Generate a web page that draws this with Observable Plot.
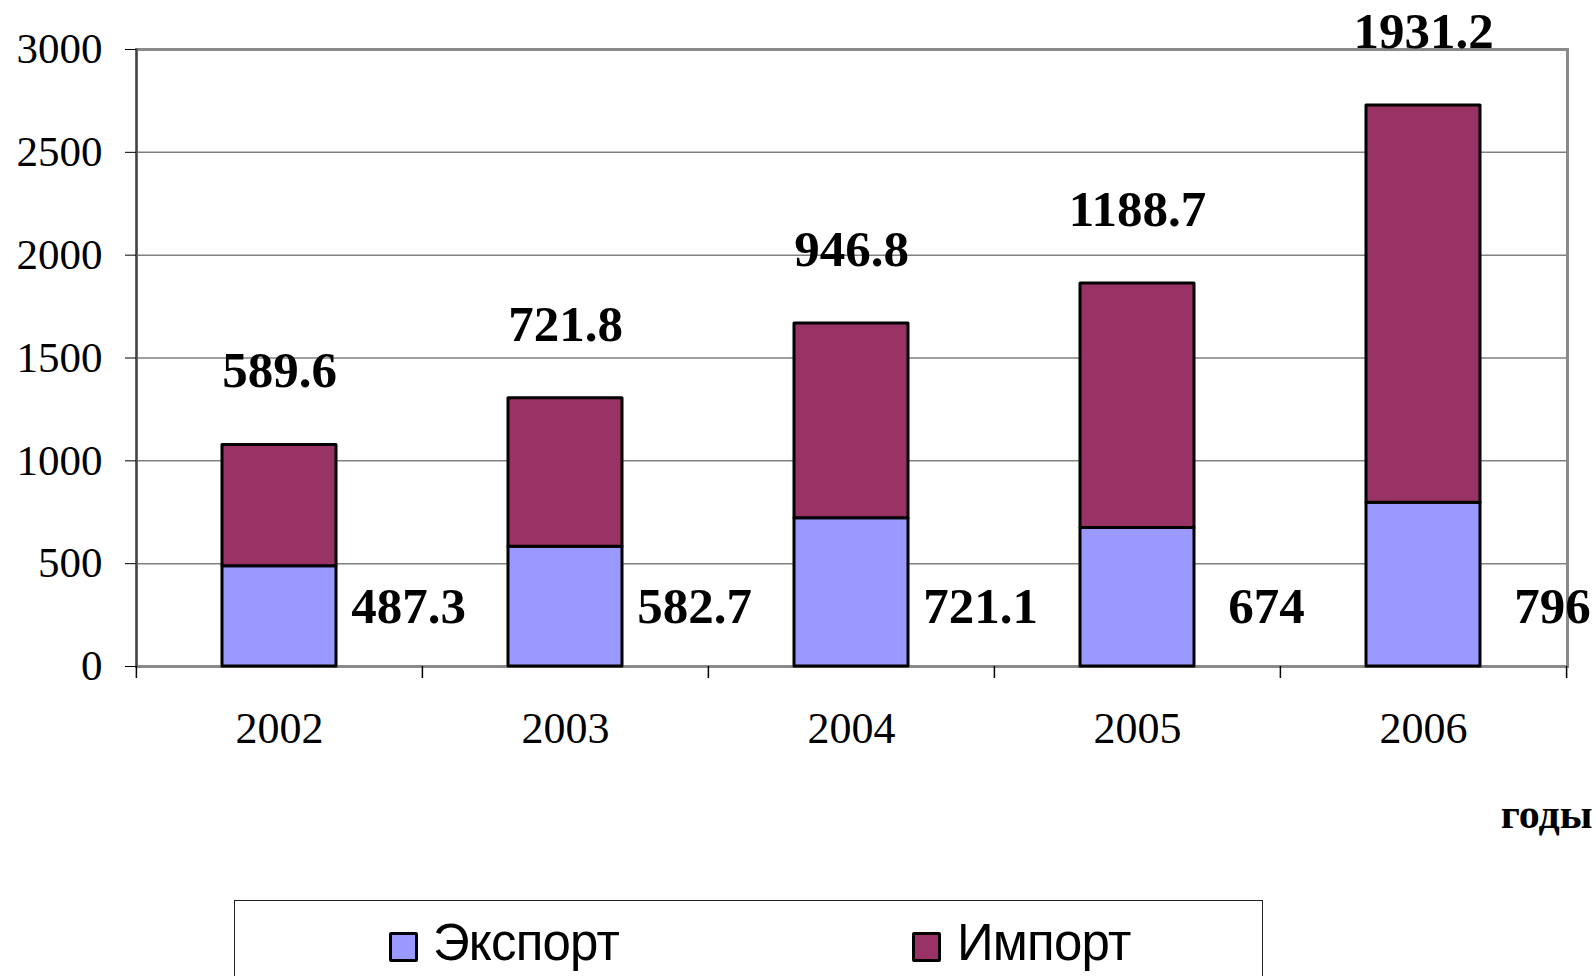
<!DOCTYPE html>
<html>
<head>
<meta charset="utf-8">
<script src="https://cdn.jsdelivr.net/npm/d3@7"></script>
<script src="https://cdn.jsdelivr.net/npm/@observablehq/plot@0.6"></script>
<style>
  html, body { margin: 0; padding: 0; background: #fff; }
  #wrap { position: relative; width: 1596px; height: 976px; overflow: hidden; background: #fff; }
  #legend { position: absolute; left: 234px; top: 900px; width: 1029px; height: 120px; border: 1.5px solid #222; box-sizing: border-box; }
  .sw { position: absolute; width: 29px; height: 30px; box-sizing: border-box; border: 3px solid #000; border-radius: 2px; }
  .lt { position: absolute; font-family: "Liberation Sans", Arial, sans-serif; font-size: 51px; line-height: 51px; letter-spacing: -0.8px; color: #000; white-space: nowrap; }
</style>
</head>
<body>
<div id="wrap"></div>
<script>
// ---- data ----
const years = ["2002", "2003", "2004", "2005", "2006"];
const exportValues = [487.3, 582.7, 721.1, 674, 796];
const importValues = [589.6, 721.8, 946.8, 1188.7, 1931.2];
const seriesNames = ["Экспорт", "Импорт"];
const seriesColors = ["#9999FF", "#993366"];
const yTicks = [0, 500, 1000, 1500, 2000, 2500, 3000];
const xAxisTitle = "годы";

// ---- tables built from the arrays ----
const long = [];
years.forEach((y, i) => {
  long.push({year: y, type: seriesNames[0], value: exportValues[i]});
  long.push({year: y, type: seriesNames[1], value: importValues[i]});
});
const rows = years.map((y, i) => ({year: y, exp: exportValues[i], imp: importValues[i]}));

const W = 1596, H = 976;
const mL = 136, mR = 29, mT = 49, mB = 310;
const halfStep = (W - mL - mR) / years.length / 2;
const labelFont = "Liberation Serif, Times New Roman, serif";

const chart = Plot.plot({
  width: W,
  height: H,
  marginLeft: mL,
  marginRight: mR,
  marginTop: mT,
  marginBottom: mB,
  style: {fontFamily: labelFont, background: "white", color: "#000", overflow: "visible"},
  x: {domain: years, paddingInner: 0.6, paddingOuter: 0.3, label: null},
  y: {domain: [0, 3000], label: null},
  color: {domain: seriesNames, range: seriesColors},
  marks: [
    Plot.gridY(yTicks, {stroke: "#808080", strokeOpacity: 1, strokeWidth: 1.5}),
    Plot.frame({stroke: "#8a8a8a", strokeWidth: 3}),
    Plot.frame({anchor: "left", stroke: "#444", strokeWidth: 2}),
    Plot.axisY({ticks: yTicks, tickFormat: d => String(d), tickSize: 11, tickPadding: 23, fontSize: 43, fontFamily: labelFont, stroke: "#000", label: null}),
    Plot.axisX({tickSize: 0, tickPadding: 45, fontSize: 44, fontFamily: labelFont, label: null}),
    Plot.tickX(years, {x: d => d, dx: -halfStep, stroke: "#000", strokeWidth: 1.5, insetTop: H - mT - mB, insetBottom: -12}),
    Plot.tickX(years.slice(-1), {x: d => d, dx: halfStep, stroke: "#000", strokeWidth: 1.5, insetTop: H - mT - mB, insetBottom: -12}),
    Plot.barY(long, {x: "year", y: "value", fill: "type", stroke: "#000", strokeWidth: 3, strokeLinejoin: "round"}),
    Plot.text(rows, {x: "year", y: d => d.exp + d.imp, text: d => String(d.imp), dy: -74, fontSize: 51, fontWeight: "bold", fontFamily: labelFont, fill: "#000"}),
    Plot.text(rows, {x: "year", y: () => 0, text: d => String(d.exp), dx: 129, dy: -60, fontSize: 51, fontWeight: "bold", fontFamily: labelFont, fill: "#000"}),
    Plot.text([xAxisTitle], {frameAnchor: "bottom-right", text: d => d, dx: 25, dy: 161, textAnchor: "end", lineAnchor: "bottom", fontSize: 42, fontWeight: "bold", fontFamily: labelFont, fill: "#000"})
  ]
});

const wrap = document.getElementById("wrap");
wrap.appendChild(chart);

// legend (HTML, below the plot area)
const legend = document.createElement("div");
legend.id = "legend";
wrap.appendChild(legend);
const legendItems = [
  {sw: [389, 932], tx: [433, 917]},
  {sw: [912, 932], tx: [957, 917]}
];
seriesNames.forEach((name, i) => {
  const s = document.createElement("div");
  s.className = "sw";
  s.style.left = legendItems[i].sw[0] + "px";
  s.style.top = legendItems[i].sw[1] + "px";
  s.style.background = seriesColors[i];
  wrap.appendChild(s);
  const t = document.createElement("div");
  t.className = "lt";
  t.style.left = legendItems[i].tx[0] + "px";
  t.style.top = legendItems[i].tx[1] + "px";
  t.textContent = name;
  wrap.appendChild(t);
});
</script>
</body>
</html>
